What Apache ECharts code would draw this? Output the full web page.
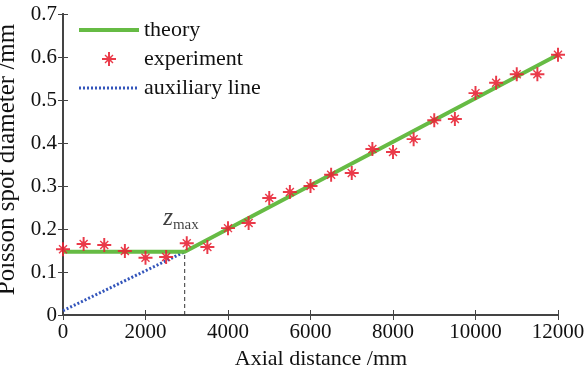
<!DOCTYPE html>
<html>
<head>
<meta charset="utf-8">
<script src="https://cdn.jsdelivr.net/npm/echarts@6/dist/echarts.min.js"></script>
<style>
  html, body { margin: 0; padding: 0; background: #fff; }
  #main { width: 587px; height: 370px; }
</style>
</head>
<body>
<div id="main"></div>
<script>
// axial distance (mm) of each measurement
const distances = [0, 500, 1000, 1500, 2000, 2500, 3000, 3500, 4000, 4500, 5000, 5500, 6000,
  6500, 7000, 7500, 8000, 8500, 9000, 9500, 10000, 10500, 11000, 11500, 12000];
// measured poisson spot diameter (mm)
const measured = [0.153, 0.165, 0.163, 0.149, 0.133, 0.135, 0.167, 0.158, 0.202, 0.214, 0.272, 0.286, 0.300,
  0.326, 0.330, 0.386, 0.379, 0.409, 0.453, 0.456, 0.516, 0.540, 0.560, 0.560, 0.605];
// theory curve corner points
const theoryX = [0, 2950, 12000];
const theoryY = [0.147, 0.147, 0.605];
// auxiliary line
const auxX = [0, 2950];
const auxY = [0.01, 0.147];
const zmax = 2950;
const xTicks = [0, 2000, 4000, 6000, 8000, 10000, 12000];
const yTicks = [0, 0.1, 0.2, 0.3, 0.4, 0.5, 0.6, 0.7];

const serif = "'Liberation Serif', 'Times New Roman', serif";
const starPath = 'path://M8.6,0L11.4,0L11.4,20L8.6,20Z M0,8.6L20,8.6L20,11.4L0,11.4Z ' +
  'M5,3.6L16.4,15L15,16.4L3.6,5Z M16.4,5L5,16.4L3.6,15L15,3.6Z M6.5,6.5L13.5,6.5L13.5,13.5L6.5,13.5Z';

const myChart = echarts.init(document.getElementById('main'));

const axisLine = { show: true, lineStyle: { color: '#444', width: 2 } };
const tickStyle = { show: true, inside: true, length: 5, lineStyle: { color: '#444', width: 1 } };

const option = {
  animation: false,
  backgroundColor: '#fff',
  grid: { left: 63, right: 29, top: 14, bottom: 55, containLabel: false, outerBoundsMode: 'none' },
  legend: {
    orient: 'vertical',
    left: 72,
    top: 14,
    itemWidth: 60,
    itemHeight: 14,
    itemGap: 7,
    textStyle: { fontFamily: serif, fontSize: 22, color: '#111' },
    data: [
      { name: 'theory', itemStyle: { opacity: 0 }, lineStyle: { width: 4 } },
      'experiment',
      { name: 'auxiliary line', itemStyle: { opacity: 0 }, lineStyle: { width: 3 } }
    ]
  },
  xAxis: [{
    type: 'value',
    min: 0, max: 12000, interval: 2000,
    name: 'Axial distance /mm',
    nameLocation: 'middle',
    nameGap: 31,
    nameTextStyle: { fontFamily: serif, fontSize: 22, color: '#111', padding: [0, 0, 0, 21] },
    axisLine: axisLine,
    axisTick: tickStyle,
    splitLine: { show: false },
    axisLabel: { fontFamily: serif, fontSize: 21, color: '#111', margin: 7,
      formatter: v => xTicks.includes(v) ? String(v) : '' }
  }, {
    type: 'value', position: 'top',
    min: 0, max: 12000, interval: 2000,
    axisLine: axisLine, axisTick: tickStyle,
    axisLabel: { show: false }, splitLine: { show: false }
  }],
  yAxis: [{
    type: 'value',
    min: 0, max: 0.7, interval: 0.1,
    name: 'Poisson spot diameter /mm',
    nameLocation: 'middle',
    nameGap: 36,
    nameTextStyle: { fontFamily: serif, fontSize: 25, color: '#111', padding: [0, 0, 0, 10] },
    axisLine: axisLine,
    axisTick: tickStyle,
    splitLine: { show: false },
    axisLabel: { fontFamily: serif, fontSize: 21, color: '#111', margin: 6,
      formatter: v => { const t = yTicks.find(k => Math.abs(k - v) < 1e-9); return t === undefined ? '' : String(t); } }
  }, {
    type: 'value', position: 'right',
    min: 0, max: 0.7, interval: 0.1,
    axisLine: axisLine, axisTick: tickStyle,
    axisLabel: { show: false }, splitLine: { show: false }
  }],
  series: [
    {
      name: 'zmax',
      type: 'line',
      data: [[zmax, 0], [zmax, theoryY[1]]],
      symbol: 'none',
      lineStyle: { color: '#333', width: 1, type: [4, 3] },
      z: 1
    },
    {
      name: 'auxiliary line',
      type: 'line',
      data: auxX.map((x, i) => [x, auxY[i]]),
      symbol: 'none',
      lineStyle: { color: '#3355bb', width: 3, type: [2, 2] },
      itemStyle: { color: '#3355bb' },
      z: 2
    },
    {
      name: 'theory',
      type: 'line',
      data: theoryX.map((x, i) => [x, theoryY[i]]),
      symbol: 'none',
      lineStyle: { color: '#66bb44', width: 4 },
      itemStyle: { color: '#66bb44' },
      z: 3
    },
    {
      name: 'experiment',
      type: 'scatter',
      data: distances.map((x, i) => [x, measured[i]]),
      symbol: starPath,
      symbolSize: 14,
      itemStyle: { color: '#e82535', opacity: 0.9 },
      z: 4
    },
    {
      name: 'label',
      type: 'scatter',
      data: [[2860, 0.224]],
      symbolSize: 0,
      silent: true,
      label: {
        show: true,
        position: 'inside',
        formatter: '{z|z}{m|max}',
        rich: {
          z: { fontFamily: serif, fontStyle: 'italic', fontSize: 25, color: '#111' },
          m: { fontFamily: serif, fontSize: 15, color: '#111', verticalAlign: 'bottom', padding: [12, 0, 0, 0] }
        }
      },
      z: 5
    }
  ]
};

option && myChart.setOption(option);
</script>
</body>
</html>
